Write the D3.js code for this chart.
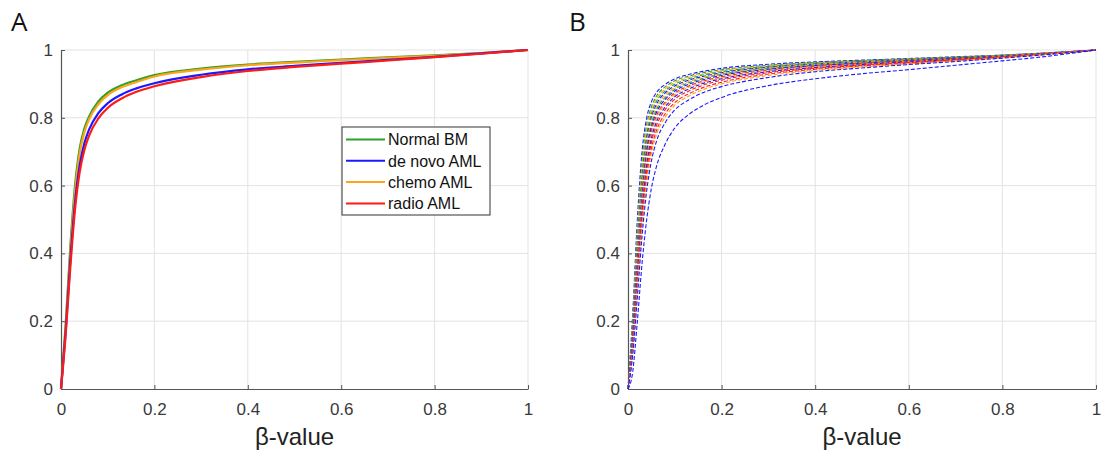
<!DOCTYPE html>
<html><head><meta charset="utf-8">
<script src="https://cdn.jsdelivr.net/npm/d3@7"></script>
<style>body{margin:0;background:#fff}svg{display:block}</style>
</head><body>
<svg id="c" width="1102" height="450"></svg>
<script>
// ---- data ----
const betaGrid = [0, 0.01, 0.02, 0.03, 0.04, 0.05, 0.06, 0.08, 0.1, 0.13, 0.16, 0.2, 0.3, 0.4, 0.5, 0.6, 0.7, 0.8, 0.9, 1];
const xTicks = [0, 0.2, 0.4, 0.6, 0.8, 1];
const xTickLabels = ["0", "0.2", "0.4", "0.6", "0.8", "1"];
const yTicks = [0, 0.2, 0.4, 0.6, 0.8, 1];
const yTickLabels = ["0", "0.2", "0.4", "0.6", "0.8", "1"];
const panelLabels = ["A", "B"];
const xLabel = "β-value";

// Panel A: group mean CDFs
const groupNames = ["Normal BM", "de novo AML", "chemo AML", "radio AML"];
const groupColors = ["#2ca02c", "#1a1aff", "#ffa31a", "#ff1a1a"];
const normalBM  = [0, 0.19, 0.42, 0.60, 0.71, 0.768, 0.803, 0.848, 0.874, 0.896, 0.910, 0.926, 0.945, 0.957, 0.965, 0.972, 0.978, 0.984, 0.991, 1];
const deNovoAML = [0, 0.17, 0.38, 0.55, 0.66, 0.725, 0.765, 0.814, 0.843, 0.869, 0.886, 0.902, 0.927, 0.943, 0.953, 0.962, 0.971, 0.980, 0.990, 1];
const chemoAML  = [0, 0.18, 0.40, 0.58, 0.695, 0.757, 0.795, 0.840, 0.867, 0.890, 0.905, 0.922, 0.942, 0.955, 0.963, 0.970, 0.977, 0.983, 0.991, 1];
const radioAML  = [0, 0.16, 0.36, 0.53, 0.64, 0.705, 0.747, 0.798, 0.829, 0.857, 0.876, 0.893, 0.920, 0.938, 0.950, 0.960, 0.969, 0.979, 0.989, 1];

// Panel B: individual sample CDFs (group index: 0 normal,1 de novo,2 chemo,3 radio)
const sampleGroups = [1, 0, 2, 0, 1, 2, 0, 1, 3, 2, 1, 3, 3, 2, 1, 1];
const s01 = [0, 0.22, 0.50, 0.70, 0.80, 0.847, 0.873, 0.899, 0.915, 0.928, 0.937, 0.946, 0.958, 0.965, 0.970, 0.975, 0.980, 0.985, 0.992, 1];
const s02 = [0, 0.20, 0.47, 0.67, 0.78, 0.832, 0.862, 0.892, 0.909, 0.923, 0.933, 0.942, 0.955, 0.963, 0.969, 0.974, 0.979, 0.985, 0.992, 1];
const s03 = [0, 0.19, 0.45, 0.65, 0.765, 0.822, 0.854, 0.886, 0.904, 0.919, 0.929, 0.939, 0.953, 0.961, 0.967, 0.973, 0.978, 0.984, 0.991, 1];
const s04 = [0, 0.18, 0.43, 0.63, 0.75, 0.812, 0.846, 0.880, 0.899, 0.915, 0.926, 0.936, 0.951, 0.960, 0.966, 0.972, 0.978, 0.984, 0.991, 1];
const s05 = [0, 0.17, 0.41, 0.61, 0.735, 0.800, 0.837, 0.874, 0.894, 0.911, 0.922, 0.933, 0.949, 0.958, 0.965, 0.971, 0.977, 0.983, 0.991, 1];
const s06 = [0, 0.16, 0.40, 0.60, 0.725, 0.792, 0.830, 0.868, 0.889, 0.907, 0.919, 0.930, 0.947, 0.957, 0.964, 0.970, 0.976, 0.983, 0.991, 1];
const s07 = [0, 0.15, 0.38, 0.58, 0.71, 0.781, 0.821, 0.861, 0.884, 0.903, 0.916, 0.928, 0.945, 0.955, 0.962, 0.969, 0.976, 0.982, 0.990, 1];
const s08 = [0, 0.15, 0.37, 0.565, 0.70, 0.772, 0.813, 0.855, 0.879, 0.899, 0.912, 0.925, 0.943, 0.954, 0.961, 0.968, 0.975, 0.982, 0.990, 1];
const s09 = [0, 0.14, 0.36, 0.55, 0.685, 0.760, 0.803, 0.847, 0.873, 0.894, 0.908, 0.921, 0.940, 0.952, 0.960, 0.967, 0.974, 0.981, 0.990, 1];
const s10 = [0, 0.13, 0.345, 0.54, 0.675, 0.751, 0.795, 0.841, 0.868, 0.890, 0.905, 0.918, 0.938, 0.950, 0.958, 0.966, 0.973, 0.981, 0.989, 1];
const s11 = [0, 0.13, 0.335, 0.525, 0.66, 0.739, 0.785, 0.833, 0.862, 0.885, 0.901, 0.915, 0.936, 0.948, 0.957, 0.965, 0.972, 0.980, 0.989, 1];
const s12 = [0, 0.12, 0.32, 0.51, 0.645, 0.727, 0.774, 0.825, 0.855, 0.879, 0.896, 0.911, 0.933, 0.946, 0.955, 0.963, 0.971, 0.979, 0.989, 1];
const s13 = [0, 0.11, 0.30, 0.49, 0.625, 0.709, 0.759, 0.813, 0.845, 0.871, 0.889, 0.905, 0.929, 0.943, 0.953, 0.961, 0.970, 0.978, 0.988, 1];
const s14 = [0, 0.11, 0.29, 0.475, 0.61, 0.695, 0.747, 0.803, 0.837, 0.864, 0.883, 0.900, 0.925, 0.940, 0.950, 0.959, 0.968, 0.977, 0.988, 1];
const s15 = [0, 0.10, 0.27, 0.45, 0.585, 0.672, 0.727, 0.787, 0.823, 0.853, 0.874, 0.892, 0.919, 0.936, 0.947, 0.957, 0.966, 0.976, 0.987, 1];
const s16 = [0, 0.05, 0.20, 0.37, 0.50, 0.592, 0.652, 0.724, 0.770, 0.810, 0.836, 0.860, 0.895, 0.915, 0.930, 0.942, 0.955, 0.968, 0.982, 1];

// ---- drawing ----
const svg = d3.select("#c");
const FONT = "'Liberation Sans', Arial, sans-serif";
const plotTop = 50, plotBottom = 389;

function drawAxes(x0, x1, label, labelX) {
  const x = d3.scaleLinear().domain([0, 1]).range([x0, x1]);
  const y = d3.scaleLinear().domain([0, 1]).range([plotBottom, plotTop]);
  const g = svg.append("g");
  g.selectAll(".gx").data(xTicks.slice(1)).join("line")
    .attr("x1", d => x(d)).attr("x2", d => x(d)).attr("y1", plotTop).attr("y2", plotBottom)
    .attr("stroke", "#e3e3e3").attr("stroke-width", 1);
  g.selectAll(".gy").data(yTicks.slice(1)).join("line")
    .attr("y1", d => y(d)).attr("y2", d => y(d)).attr("x1", x0).attr("x2", x1)
    .attr("stroke", "#e3e3e3").attr("stroke-width", 1);
  const xa = g.append("g").attr("transform", `translate(0,${plotBottom})`)
    .call(d3.axisBottom(x).tickValues(xTicks).tickFormat((d, i) => xTickLabels[i]).tickSizeInner(-4).tickSizeOuter(0).tickPadding(10));
  const ya = g.append("g").attr("transform", `translate(${x0},0)`)
    .call(d3.axisLeft(y).tickValues(yTicks).tickFormat((d, i) => yTickLabels[i]).tickSizeInner(-4).tickSizeOuter(0).tickPadding(8));
  [xa, ya].forEach(a => {
    a.select(".domain").attr("stroke", "#555").attr("stroke-width", 1.2);
    a.selectAll(".tick line").attr("stroke", "#555");
    a.selectAll("text").attr("fill", "#3a3a3a").style("font-family", FONT).style("font-size", "17px");
  });
  xa.selectAll("text").attr("dy", "0.95em");
  svg.append("text").attr("x", labelX).attr("y", 31).text(label)
    .style("font-family", "'Open Sans', sans-serif").style("font-size", "26px").attr("fill", "#111");
  svg.append("text").attr("x", (x0 + x1) / 2).attr("y", 445).attr("text-anchor", "middle").text(xLabel)
    .style("font-family", FONT).style("font-size", "24px").attr("fill", "#222");
  return {x, y, g};
}

// Panel A
const A = drawAxes(61, 528, panelLabels[0], 11);
const lineA = d3.line().x((d, i) => A.x(betaGrid[i])).y(d => A.y(d)).curve(d3.curveMonotoneX);
const seriesA = [
  {v: normalBM, c: groupColors[0]},
  {v: chemoAML, c: groupColors[2]},
  {v: deNovoAML, c: groupColors[1]},
  {v: radioAML, c: groupColors[3]}
];
A.g.selectAll(".la").data(seriesA).join("path")
  .attr("d", d => lineA(d.v)).attr("fill", "none").attr("stroke", d => d.c).attr("stroke-width", 2.2);

// legend
const leg = svg.append("g");
leg.append("rect").attr("x", 342).attr("y", 127).attr("width", 148).attr("height", 88)
  .attr("fill", "#fff").attr("stroke", "#333").attr("stroke-width", 1);
groupNames.forEach((name, k) => {
  const yy = 139.5 + k * 21.3;
  leg.append("line").attr("x1", 346).attr("x2", 385).attr("y1", yy).attr("y2", yy)
    .attr("stroke", groupColors[k]).attr("stroke-width", 2);
  leg.append("text").attr("x", 388).attr("y", yy).attr("dy", "0.36em").text(name)
    .style("font-family", FONT).style("font-size", "16px").attr("fill", "#111");
});

// Panel B
const B = drawAxes(628, 1096, panelLabels[1], 569);
const lineB = d3.line().x((d, i) => B.x(betaGrid[i])).y(d => B.y(d)).curve(d3.curveMonotoneX);
const samples = [s01, s02, s03, s04, s05, s06, s07, s08, s09, s10, s11, s12, s13, s14, s15, s16];
B.g.selectAll(".lb").data(samples).join("path")
  .attr("d", d => lineB(d)).attr("fill", "none")
  .attr("stroke", (d, i) => groupColors[sampleGroups[i]])
  .attr("stroke-width", 1.1).attr("stroke-dasharray", "4,2");
</script>
</body></html>
